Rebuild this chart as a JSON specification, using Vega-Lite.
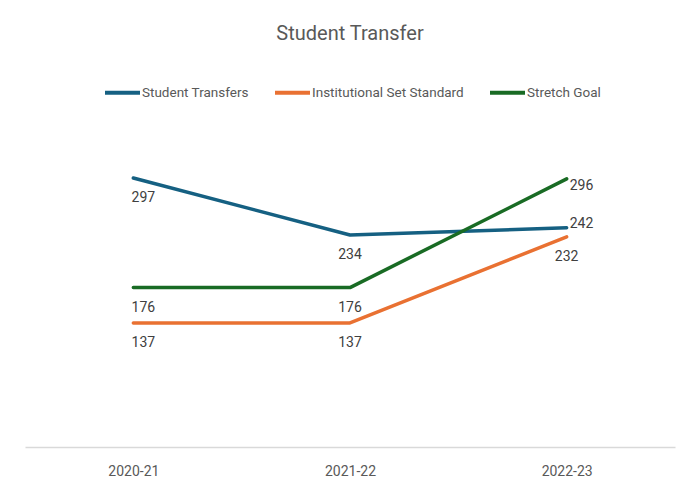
{
  "$schema": "https://vega.github.io/schema/vega-lite/v6.json",
  "width": 650,
  "height": 317,
  "autosize": "none",
  "padding": {"left": 25, "top": 130, "right": 11, "bottom": 40},
  "background": "white",
  "config": {
    "view": {"stroke": null},
    "font": "Roboto",
    "axis": {"grid": false}
  },
  "title": {
    "text": "Student Transfer",
    "fontSize": 20,
    "fontWeight": "normal",
    "color": "#595959",
    "font": "Roboto",
    "anchor": "middle",
    "offset": 29
  },
  "data": {
    "values": [
      {"year": "2020-21", "series": "Student Transfers", "value": 297},
      {"year": "2021-22", "series": "Student Transfers", "value": 234},
      {"year": "2022-23", "series": "Student Transfers", "value": 242},
      {"year": "2020-21", "series": "Institutional Set Standard", "value": 137},
      {"year": "2021-22", "series": "Institutional Set Standard", "value": 137},
      {"year": "2022-23", "series": "Institutional Set Standard", "value": 232},
      {"year": "2020-21", "series": "Stretch Goal", "value": 176},
      {"year": "2021-22", "series": "Stretch Goal", "value": 176},
      {"year": "2022-23", "series": "Stretch Goal", "value": 296}
    ]
  },
  "encoding": {
    "x": {
      "field": "year",
      "type": "ordinal",
      "scale": {"type": "point", "padding": 0.5},
      "axis": {
        "title": null,
        "labelAngle": 0,
        "ticks": false,
        "domainColor": "#d9d9d9",
        "domainWidth": 1.5,
        "labelColor": "#595959",
        "labelFontSize": 14,
        "labelPadding": 17
      }
    },
    "y": {
      "field": "value",
      "type": "quantitative",
      "scale": {"domain": [0, 350]},
      "axis": null
    },
    "color": {
      "field": "series",
      "type": "nominal",
      "scale": {
        "domain": ["Student Transfers", "Institutional Set Standard", "Stretch Goal"],
        "range": ["#156082", "#E97132", "#196B24"]
      },
      "legend": {
        "title": null,
        "orient": "none",
        "legendX": 78,
        "legendY": -57,
        "direction": "horizontal",
        "symbolType": "stroke",
        "symbolSize": 1225,
        "symbolStrokeWidth": 4,
        "labelFontSize": 13.5,
        "labelColor": "#595959",
        "labelOffset": 0,
        "columnPadding": 18
      }
    }
  },
  "layer": [
    {
      "mark": {"type": "line", "strokeWidth": 3.5, "strokeCap": "round", "strokeJoin": "round"}
    },
    {
      "transform": [
        {"filter": "datum.year == '2020-21'"}
      ],
      "mark": {"type": "text", "dx": 10, "dy": 20, "fontSize": 14, "baseline": "middle"},
      "encoding": {
        "text": {"field": "value", "type": "quantitative"},
        "color": {"value": "#404040"}
      }
    },
    {
      "transform": [
        {"filter": "datum.year == '2021-22' || (datum.year == '2022-23' && datum.series == 'Institutional Set Standard')"}
      ],
      "mark": {"type": "text", "dy": 20, "fontSize": 14, "baseline": "middle"},
      "encoding": {
        "text": {"field": "value", "type": "quantitative"},
        "color": {"value": "#404040"}
      }
    },
    {
      "transform": [
        {"filter": "datum.year == '2022-23' && datum.series == 'Stretch Goal'"}
      ],
      "mark": {"type": "text", "dx": 3, "dy": 7, "align": "left", "fontSize": 14, "baseline": "middle"},
      "encoding": {
        "text": {"field": "value", "type": "quantitative"},
        "color": {"value": "#404040"}
      }
    },
    {
      "transform": [
        {"filter": "datum.year == '2022-23' && datum.series == 'Student Transfers'"}
      ],
      "mark": {"type": "text", "dx": 3, "dy": -4, "align": "left", "fontSize": 14, "baseline": "middle"},
      "encoding": {
        "text": {"field": "value", "type": "quantitative"},
        "color": {"value": "#404040"}
      }
    }
  ]
}
